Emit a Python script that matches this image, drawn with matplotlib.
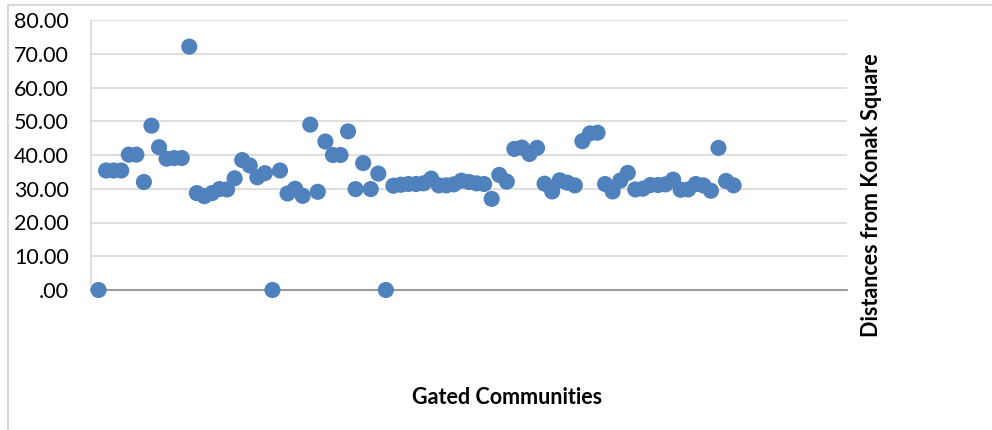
import matplotlib
matplotlib.use('Agg')
from matplotlib import pyplot as plt
from matplotlib.patches import Rectangle

# distance of each gated community from Konak Square
communities = list(range(1, 86))
distances = [
    0.0, 35.4, 35.4, 35.4, 40.1, 40.1, 32.0, 48.7, 42.3, 38.9,
    39.1, 39.1, 72.1, 28.7, 27.8, 28.7, 29.9, 29.8, 33.1, 38.5,
    36.9, 33.4, 34.6, 0.0, 35.4, 28.6, 30.0, 27.9, 49.0, 29.1,
    44.0, 40.0, 40.0, 47.0, 29.9, 37.6, 29.9, 34.5, 0.0, 30.9,
    31.2, 31.4, 31.4, 31.6, 33.0, 31.0, 31.0, 31.3, 32.4, 32.0,
    31.6, 31.4, 27.0, 34.1, 32.1, 41.8, 42.2, 40.3, 42.1, 31.5,
    29.2, 32.5, 31.8, 31.0, 44.1, 46.4, 46.6, 31.4, 29.2, 32.4,
    34.7, 29.8, 30.0, 31.1, 31.1, 31.3, 32.7, 29.7, 29.8, 31.4,
    31.0, 29.4, 42.1, 32.3, 31.0,
]
y_ticks = [0, 10, 20, 30, 40, 50, 60, 70, 80]
y_tick_labels = ['.00', '10.00', '20.00', '30.00', '40.00', '50.00', '60.00', '70.00', '80.00']

plt.rcParams['font.family'] = ['Lato', 'DejaVu Sans']

fig = plt.figure(figsize=(9.92, 4.30), dpi=100)
ax = fig.add_axes([91 / 992, 1 - 290 / 430, 756 / 992, 270 / 430])

ax.scatter(communities, distances, s=135, color='#4F81BD', edgecolors='none', zorder=3, clip_on=False)

ax.set_xlim(0, 100)
ax.set_ylim(0, 80)
ax.set_yticks(y_ticks)
ax.set_yticklabels(y_tick_labels, fontsize=15.5)
ax.set_xticks([])
ax.tick_params(axis='y', length=0, pad=16)

for v in y_ticks[1:]:
    ax.axhline(v, color='#D9D9D9', linewidth=1.2, zorder=1)

for side in ['top', 'right']:
    ax.spines[side].set_visible(False)
ax.spines['left'].set_color('#D9D9D9')
ax.spines['left'].set_linewidth(1.2)
ax.spines['bottom'].set_color('#868686')
ax.spines['bottom'].set_linewidth(1.2)

fig.text(507 / 992, 1 - 397 / 430, 'Gated Communities', fontsize=15.5, fontweight='bold',
         ha='center', va='center')
fig.text(871 / 992, 1 - 195 / 430, 'Distances from Konak Square', fontsize=15.5,
         fontweight='bold', rotation=90, ha='center', va='center')

# outer chart border
fig.patches.append(Rectangle((8 / 992, -0.1), 1.1, 1 - 5 / 430 + 0.1, transform=fig.transFigure,
                             fill=False, edgecolor='#D9D9D9', linewidth=1.5))

plt.savefig('out.png', dpi=100)
plt.close()
